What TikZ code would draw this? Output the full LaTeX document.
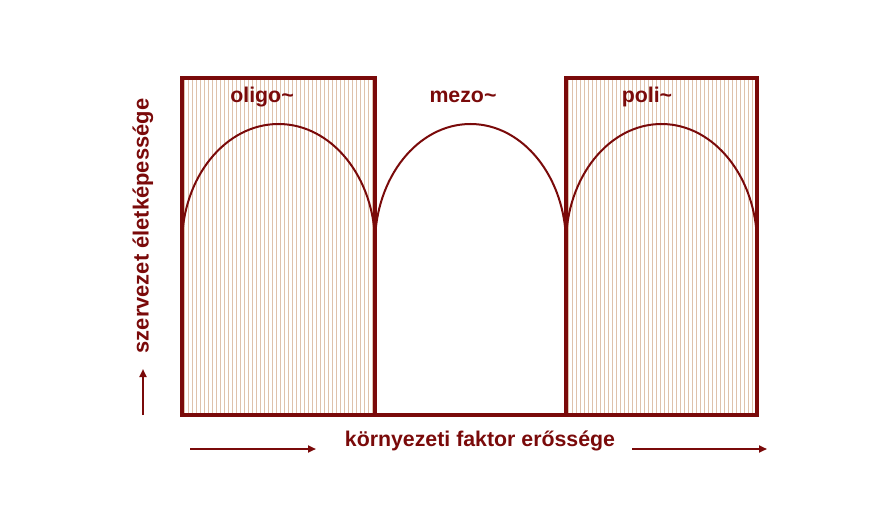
\documentclass[tikz,border=0pt]{standalone}
\usepackage{fontspec}
\setmainfont{Liberation Sans}
\usetikzlibrary{arrows.meta}
\definecolor{dred}{RGB}{122,10,10}
\definecolor{stripe}{RGB}{222,194,172}
\begin{document}
\begin{tikzpicture}[x=1bp,y=-1bp,
  lbl/.style={text=dred,font=\bfseries\fontsize{21.4}{24}\selectfont,inner sep=0pt},
  boxline/.style={draw=dred,line width=3.4bp},
  curve/.style={draw=dred,line width=2bp},
  arr/.style={draw=dred,line width=2bp,-{Triangle[length=8bp,width=7bp]}}]
\useasboundingbox (0,0) rectangle (884,520);
% stripes
\foreach \x in {184.5,188.5,...,372.5} {\draw[stripe,line width=1bp] (\x,80) -- (\x,413);}
\foreach \x in {568.5,572.5,...,756} {\draw[stripe,line width=1bp] (\x,80) -- (\x,413);}
% boxes
\draw[boxline] (375,415) -- (375,78) -- (182,78) -- (182,415) -- (757,415) -- (757,78) -- (566,78) -- (566,415);
% arches
\draw[curve] (182,244) arc[start angle=180,end angle=360,x radius=96.5,y radius=120];
\draw[curve] (375,244) arc[start angle=180,end angle=360,x radius=95.5,y radius=120];
\draw[curve] (566,244) arc[start angle=180,end angle=360,x radius=95.5,y radius=120];
% labels
\node[lbl] (oligo) at (262,97) {oligo\char`~};
\node[lbl] (mezo) at (463,97) {mezo\char`~};
\node[lbl] (poli) at (647,97) {poli\char`~};
\node[lbl,rotate=90,font=\bfseries\fontsize{22}{24}\selectfont] (ylab) at (143,226) {szervezet életképessége};
\node[lbl] (xlab) at (480,441) {környezeti faktor erőssége};
% arrows
\coordinate (ya) at (143,415);
\coordinate (yb) at (143,369);
\draw[arr] (ya) -- (yb);
\coordinate (xa1) at (190,449);
\coordinate (xb1) at (316,449);
\draw[arr] (xa1) -- (xb1);
\coordinate (xa2) at (632,449);
\coordinate (xb2) at (767,449);
\draw[arr] (xa2) -- (xb2);
\end{tikzpicture}
\end{document}
